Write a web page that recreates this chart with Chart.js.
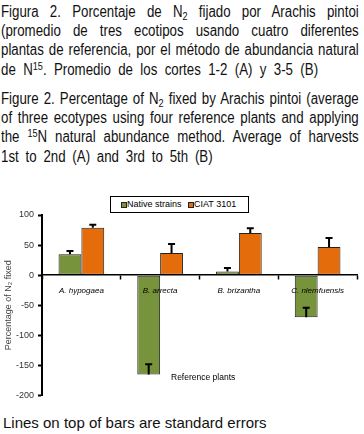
<!DOCTYPE html>
<html>
<head>
<meta charset="utf-8">
<script src="https://cdn.jsdelivr.net/npm/chart.js@4.4.0/dist/chart.umd.min.js"></script>
<style>
  html, body { margin: 0; padding: 0; background: #fff; width: 364px; height: 434px; overflow: hidden; }
  .cap { position: absolute; left: 1px; font-family: "Liberation Sans", Arial, sans-serif; font-size: 16px; color: #111; }
  .cap div { height: 19.2px; line-height: 19.2px; white-space: nowrap; transform: scaleX(0.83); transform-origin: 0 0; text-align: justify; text-align-last: justify; overflow: visible; }
  .cap sub { font-size: 11px; vertical-align: -3px; line-height: 0; }
  .cap sup { font-size: 11px; vertical-align: 5px; line-height: 0; }
  #chartwrap { position: absolute; left: 0; top: 190px; width: 364px; height: 215px; }
  #legend { position: absolute; left: 110px; top: 196px; width: 137px; height: 15px; border: 1px solid #000; background: #fff; font-family: "Liberation Sans", Arial, sans-serif; font-size: 9px; color: #000; z-index: 5; }
  #legend .sq { position: absolute; top: 5px; width: 4px; height: 4px; border: 1px solid #222; }
  #legend .tx { position: absolute; top: 1px; line-height: 13px; white-space: nowrap; }
  #refp { position: absolute; left: 171px; top: 372px; font-family: "Liberation Sans", Arial, sans-serif; font-size: 8.5px; color: #000; white-space: nowrap; }
  #foot { position: absolute; left: 3px; top: 414px; font-family: "Liberation Sans", Arial, sans-serif; font-size: 15px; color: #111; white-space: nowrap; }
</style>
</head>
<body>
<div class="cap" style="top:2px">
  <div style="width:431px">Figura 2. Porcentaje de N<sub>2</sub> fijado por Arachis pintoi</div>
  <div style="width:431px">(promedio de tres ecotipos usando cuatro diferentes</div>
  <div style="width:431px">plantas de referencia, por el método de abundancia natural</div>
  <div style="width:382px">de N<sup>15</sup>. Promedio de los cortes 1-2 (A) y 3-5 (B)</div>
</div>
<div class="cap" style="top:89px">
  <div style="width:431px">Figure 2. Percentage of N<sub>2</sub> fixed by Arachis pintoi (average</div>
  <div style="width:431px">of three ecotypes using four reference plants and applying</div>
  <div style="width:431px">the <sup>15</sup>N natural abundance method. Average of harvests</div>
  <div style="width:255px">1st to 2nd (A) and 3rd to 5th (B)</div>
</div>
<div id="legend">
  <span class="sq" style="left:10px;background:#77933C"></span><span class="tx" style="left:16px">Native strains</span>
  <span class="sq" style="left:77px;background:#E46C0A"></span><span class="tx" style="left:83px">CIAT 3101</span>
</div>
<div id="chartwrap"><canvas id="c" width="364" height="215"></canvas></div>
<div id="refp">Reference plants</div>
<div id="foot">Lines on top of bars are standard errors</div>
<script>
const categories = ["A. hypogaea", "B. arrecta", "B. brizantha", "C. nlemfuensis"];
const nativeStrains = [35, -165, 6, -70];
const nativeErrors = [5, 17, 6, 16];
const ciat3101 = [79, 37, 70, 47];
const ciatErrors = [5, 15, 8, 15];
const yTicks = [-200, -150, -100, -50, 0, 50, 100];

const errorBars = {
  id: 'errorBars',
  afterDatasetsDraw(chart) {
    const ctx = chart.ctx;
    const ys = chart.scales.y;
    const errs = [nativeErrors, ciatErrors];
    chart.data.datasets.forEach((ds, i) => {
      const meta = chart.getDatasetMeta(i);
      meta.data.forEach((el, j) => {
        const v = ds.data[j];
        const e = errs[i][j];
        const y0 = ys.getPixelForValue(v);
        const y1 = ys.getPixelForValue(v + e);
        ctx.save();
        ctx.strokeStyle = '#000';
        ctx.lineWidth = 2;
        ctx.beginPath();
        ctx.moveTo(el.x, y0);
        ctx.lineTo(el.x, y1);
        ctx.moveTo(el.x - 3.5, y1);
        ctx.lineTo(el.x + 3.5, y1);
        ctx.stroke();
        ctx.restore();
      });
    });
  }
};

new Chart(document.getElementById('c'), {
  type: 'bar',
  data: {
    labels: categories,
    datasets: [
      { label: 'Native strains', data: nativeStrains, backgroundColor: '#77933C', borderColor: '#222', borderWidth: 1, borderSkipped: false },
      { label: 'CIAT 3101', data: ciat3101, backgroundColor: '#E46C0A', borderColor: '#222', borderWidth: 1, borderSkipped: false }
    ]
  },
  options: {
    responsive: false,
    animation: false,
    events: [],
    layout: { padding: { top: 25, right: 7, bottom: 9, left: 0 } },
    plugins: { legend: { display: false }, tooltip: { enabled: false }, title: { display: false } },
    datasets: { bar: { categoryPercentage: 0.58, barPercentage: 1.0 } },
    scales: {
      x: {
        position: { y: 0 },
        offset: true,
        grid: { display: true, drawOnChartArea: false, drawTicks: true, tickLength: 4, tickColor: '#000', tickWidth: 1.5, offset: true, z: 1 },
        border: { display: true, color: '#000', width: 1.5, z: 1 },
        ticks: { z: 1, color: '#000', padding: 7, font: { family: '"Liberation Sans", Arial, sans-serif', size: 8, style: 'italic' }, maxRotation: 0, autoSkip: false }
      },
      y: {
        min: -200, max: 100,
        afterFit(axis) { axis.width = 42; },
        afterBuildTicks(axis) { axis.ticks = yTicks.map(v => ({ value: v })); },
        grid: { display: true, drawOnChartArea: false, drawTicks: true, tickLength: 4, tickColor: '#000', tickWidth: 2 },
        border: { display: true, color: '#000', width: 2 },
        ticks: { color: '#333', padding: 4, font: { family: '"Liberation Sans", Arial, sans-serif', size: 9 } },
        title: { display: true, text: 'Percentage of N₂ fixed', color: '#444', padding: { top: 3, bottom: 0 }, font: { family: '"Liberation Sans", Arial, sans-serif', size: 9 } }
      }
    }
  },
  plugins: [errorBars]
});
</script>
</body>
</html>
